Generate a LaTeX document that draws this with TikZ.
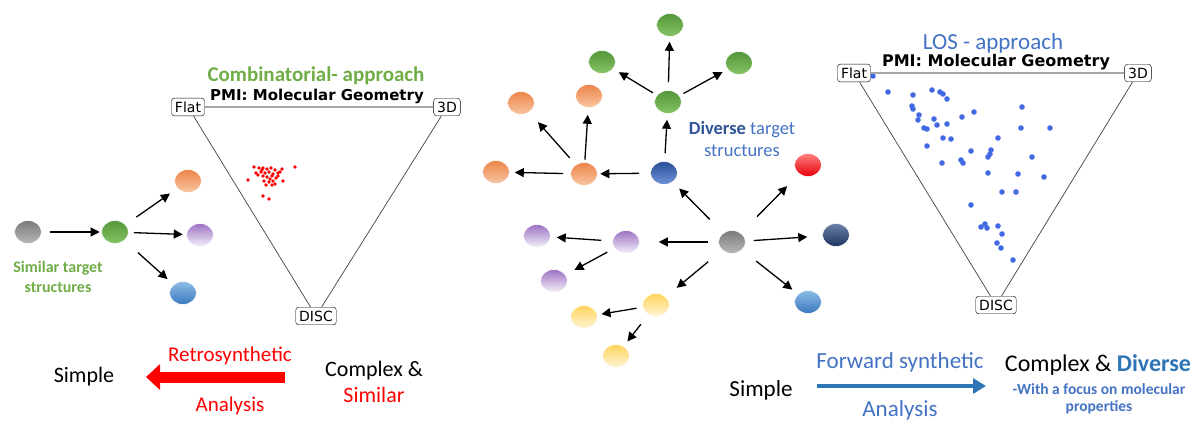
\documentclass[tikz,border=0pt]{standalone}
\usepackage{fontspec}
\setmainfont{Carlito}
\newfontfamily\pmifont{DejaVu Sans}
\usetikzlibrary{arrows.meta,shapes.geometric}

\definecolor{ggreen}{HTML}{70AD47}
\definecolor{lblue}{HTML}{4472C4}
\definecolor{mblue}{HTML}{2E75B6}
\definecolor{dkblue}{HTML}{2F5597}
\definecolor{dotblue}{HTML}{4169E1}
\definecolor{grTop}{HTML}{54963A}
\definecolor{grBot}{HTML}{86C466}
\definecolor{orTop}{HTML}{EC8448}
\definecolor{orBot}{HTML}{F8C6A2}
\definecolor{puTop}{HTML}{9B72C2}
\definecolor{puBot}{HTML}{F6F1FA}
\definecolor{ylTop}{HTML}{FFD45C}
\definecolor{ylBot}{HTML}{FFF5D6}
\definecolor{lbTop}{HTML}{8DBDE8}
\definecolor{lbBot}{HTML}{3A78BE}
\definecolor{dbTop}{HTML}{2B4E9A}
\definecolor{dbBot}{HTML}{6F93D6}
\definecolor{nvTop}{HTML}{6B7FA6}
\definecolor{nvBot}{HTML}{1E3461}
\definecolor{rdTop}{HTML}{FF8080}
\definecolor{rdBot}{HTML}{E8000A}

\newcommand{\fs}[1]{\fontsize{#1}{#1}\selectfont}

\begin{document}
\begin{tikzpicture}[x=1pt,y=-1pt,
    ball/.style={ellipse,minimum width=27pt,minimum height=23pt,inner sep=0pt,draw=white,line width=0.6pt},
    grayball/.style={ball,top color=black!52,bottom color=black!28},
    greenball/.style={ball,top color=grTop,bottom color=grBot},
    orangeball/.style={ball,top color=orTop,bottom color=orBot},
    purpleball/.style={ball,top color=puTop,bottom color=puBot},
    yellowball/.style={ball,top color=ylTop,bottom color=ylBot},
    lblueball/.style={ball,top color=lbTop,bottom color=lbBot},
    dblueball/.style={ball,top color=dbTop,bottom color=dbBot},
    navyball/.style={ball,top color=nvTop,bottom color=nvBot},
    redball/.style={ball,top color=rdTop,bottom color=rdBot},
    arr/.style={-{Triangle[length=9pt,width=9pt]},line width=1.3pt,shorten <=6pt,shorten >=5pt},
    corner/.style={draw,rounded corners=3pt,fill=white,inner sep=3.5pt,font=\pmifont\fs{14}},
    side/.style={draw=black!75,line width=0.7pt},
    top/.style={draw=black!35,line width=1.2pt}
  ]
  \useasboundingbox (0,0) rectangle (1195,425);

  % left: combinatorial
  \node[grayball] (lgray) at (28,232) {};
  \node[greenball] (lgreen) at (115,232) {};
  \node[orangeball] (lorange) at (188,181) {};
  \node[purpleball] (lpurple) at (200,235) {};
  \node[lblueball] (lblue) at (183,293) {};
  \draw[arr,shorten <=8pt,shorten >=1.5pt] (lgray) -- (lgreen);
  \draw[arr,shorten <=13pt,shorten >=9pt] (lgreen) -- (lorange);
  \draw[arr,shorten <=5pt,shorten >=3.5pt] (lgreen) -- (lpurple);
  \draw[arr,shorten <=18pt,shorten >=8pt] (lgreen) -- (lblue);
  \node[font=\bfseries\fs{16},text=ggreen,align=center] (simtxt) at (58,277) {Similar target\\[4pt]structures};

  \foreach \x/\y in {254/167,259/168,263/168,267/169,271/168,275/170,282/169,295/167,256/173,261/172,
      265/173,269/172,273/174,278/173,248/180,263/176,267/177,272/176,276/178,283/181,264/181,269/182,
      273/181,266/185,272/185,275/184,263/196,269/199,258/175,278/176,270/179,262/170,280/172}
    \fill[red] (\x,\y) circle (1.8pt);
  \node[corner] (flatL) at (188,107) {Flat};
  \node[corner] (threeL) at (447,107) {3D};
  \node[corner] (discL) at (316,316) {DISC};
  \draw[top] (flatL) -- (threeL);
  \draw[side] (flatL) -- (discL);
  \draw[side] (threeL) -- (discL);
  \node[font=\bfseries\fs{21},text=ggreen] (combT) at (316,76) {Combinatorial- approach};
  \node[font=\pmifont\bfseries\fs{15}] (pmiL) at (317,96) {PMI: Molecular Geometry};

  \node[font=\fs{22}] (simpleL) at (84,377) {Simple};
  \node[font=\fs{21},text=red] (retroT) at (230,356) {Retrosynthetic};
  \node[font=\fs{21},text=red] (retroA) at (230,406) {Analysis};
  \node[font=\fs{22},align=center] (cplxL) at (374,382) {Complex \&\\[4pt]\textcolor{red}{Similar}};
  \coordinate (retroS) at (285,377);
  \coordinate (retroE) at (146,377);
  \draw[red,line width=11pt,-{Triangle[length=14pt,width=25pt]}] (retroS) -- (retroE);

  % middle: forward synthesis
  \node[grayball] (hub) at (732,242) {};
  \node[dblueball] (dblue) at (664,173) {};
  \node[greenball] (green1) at (668,102) {};
  \node[greenball] (greenT) at (670,25) {};
  \node[greenball] (greenL) at (602,62) {};
  \node[greenball] (greenR) at (739,63) {};
  \node[orangeball] (orC) at (584,174) {};
  \node[orangeball] (orL) at (496,172) {};
  \node[orangeball] (orTL) at (521,103) {};
  \node[orangeball] (orTM) at (589,96) {};
  \node[purpleball] (purC) at (626,242) {};
  \node[purpleball] (purL) at (537,236) {};
  \node[purpleball] (purD) at (554,281) {};
  \node[yellowball] (yelC) at (656,305) {};
  \node[yellowball] (yelL) at (584,317) {};
  \node[yellowball] (yelD) at (616,356) {};
  \node[navyball] (navy) at (836,235) {};
  \node[redball] (redB) at (808,165) {};
  \node[lblueball] (lblue2) at (808,302) {};

  \draw[arr,shorten <=10pt,shorten >=19pt] (hub) -- (purC);
  \draw[arr,shorten <=11pt,shorten >=6pt] (purC) -- (purL);
  \draw[arr,shorten <=8pt,shorten >=10pt] (purC) -- (purD);
  \draw[arr,shorten <=18pt,shorten >=14pt] (hub) -- (yelC);
  \draw[arr,shorten <=6pt,shorten >=4pt] (yelC) -- (yelL);
  \draw[arr,shorten <=12pt,shorten >=6pt] (yelC) -- (yelD);
  \draw[arr,shorten <=8pt,shorten >=15pt] (hub) -- (navy);
  \draw[arr,shorten <=18pt,shorten >=7pt] (hub) -- (lblue2);
  \draw[arr,shorten <=19pt,shorten >=9pt] (hub) -- (dblue);
  \draw[arr,shorten <=23pt,shorten >=17pt] (hub) -- (redB);
  \draw[arr,shorten <=8pt,shorten >=6pt] (dblue) -- (green1);
  \draw[arr,shorten <=11pt,shorten >=2.5pt] (dblue) -- (orC);
  \draw[arr,shorten <=7pt,shorten >=5pt] (orC) -- (orL);
  \draw[arr,shorten <=9pt,shorten >=13pt] (orC) -- (orTL);
  \draw[arr,shorten <=2.5pt,shorten >=7pt] (orC) -- (orTM);
  \draw[arr,shorten <=8pt,shorten >=5pt] (green1) -- (greenT);
  \draw[arr,shorten <=4.5pt,shorten >=6.5pt] (green1) -- (greenL);
  \draw[arr,shorten <=4.5pt,shorten >=5.5pt] (green1) -- (greenR);
  \node[font=\fs{18.5},text=lblue,align=center] (divtxt) at (742,139)
    {\textcolor{dkblue}{\textbf{Diverse}} target\\[3pt]structures};

  % right: LOS
  \foreach \x/\y in {873/76,888/92,913/95,932/90,940/92,943/94,947/99,912/106,913/109,919/115,918/120,
      934/119,937/125,947/124,924/128,927/129,962/117,974/112,1022/107,1021/128,1050/128,943/138,
      951/139,998/138,927/146,971/151,991/150,990/154,988/157,1032/157,942/163,961/160,963/163,988/173,
      1018/174,1044/177,1002/192,1016/192,971/205,981/227,985/224,987/228,998/226,1002/234,997/243,
      1001/248,1013/260}
    \fill[dotblue] (\x,\y) circle (2.8pt);
  \node[corner] (flatR) at (854,73) {Flat};
  \node[corner] (threeR) at (1138,73) {3D};
  \node[corner] (discR) at (996,305) {DISC};
  \draw[top] (flatR) -- (threeR);
  \draw[side] (flatR) -- (discR);
  \draw[side] (threeR) -- (discR);
  \node[font=\fs{23},text=lblue] (losT) at (993,43) {LOS - approach};
  \node[font=\pmifont\bfseries\fs{16}] (pmiR) at (996,62) {PMI: Molecular Geometry};

  \node[font=\fs{23}] (simpleR) at (761,390) {Simple};
  \node[font=\fs{23},text=lblue] (fwdT) at (900,362) {Forward synthetic};
  \node[font=\fs{23},text=lblue] (fwdA) at (900,410) {Analysis};
  \node[font=\fs{24}] (cplxR) at (1098,365) {Complex \& \textcolor{mblue}{\textbf{Diverse}}};
  \node[font=\bfseries\fs{15.5},text=lblue,align=center] (focus) at (1099,399)
    {-With a focus on molecular\\[2pt]properties};
  \coordinate (fwdS) at (817,386);
  \coordinate (fwdE) at (986,386);
  \draw[mblue,line width=4.5pt,-{Triangle[length=13pt,width=15pt]}] (fwdS) -- (fwdE);
\end{tikzpicture}
\end{document}
